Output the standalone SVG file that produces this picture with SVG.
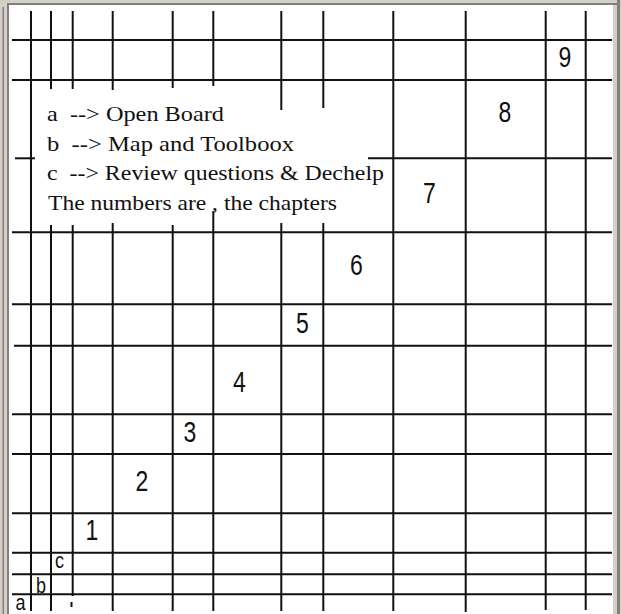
<svg xmlns="http://www.w3.org/2000/svg" width="621" height="614" viewBox="0 0 621 614">
<style>
.g line{stroke:#111;stroke-width:2;stroke-linecap:butt}
.legend{font-family:"Liberation Serif","Times New Roman",serif;font-size:21px;fill:#111;white-space:pre}
.num{font-family:"Liberation Sans",Arial,sans-serif;font-size:23px;fill:#111;text-anchor:middle}
.lab{font-family:"Liberation Sans",Arial,sans-serif;font-size:18px;fill:#111;text-anchor:middle}
</style>
<g id="frame">
<rect x="0" y="0" width="621" height="614" fill="#d4d0c8"/>
<rect x="9" y="5" width="604" height="609" fill="#ffffff"/>
<rect x="7" y="3" width="610" height="2" fill="#808080"/>
<rect x="7" y="3" width="2" height="611" fill="#808080"/>
<rect x="2.5" y="7" width="1.5" height="607" fill="#808080"/>
<rect x="617" y="0" width="3" height="614" fill="#808080"/>
</g>
<g id="grid" class="g">
<line x1="31" y1="11" x2="31" y2="611"/>
<line x1="51" y1="11" x2="51" y2="89"/>
<line x1="51" y1="225" x2="51" y2="611"/>
<line x1="72.7" y1="11" x2="72.7" y2="89"/>
<line x1="72.7" y1="225" x2="72.7" y2="596"/>
<line x1="71.5" y1="602" x2="71.5" y2="607"/>
<line x1="112.7" y1="11" x2="112.7" y2="90"/>
<line x1="112.7" y1="223" x2="112.7" y2="611"/>
<line x1="172.7" y1="11" x2="172.7" y2="88"/>
<line x1="172.7" y1="225" x2="172.7" y2="611"/>
<line x1="213.3" y1="11" x2="213.3" y2="86"/>
<line x1="213.3" y1="211" x2="213.3" y2="611"/>
<line x1="281.3" y1="11" x2="281.3" y2="110"/>
<line x1="281.3" y1="223" x2="281.3" y2="611"/>
<line x1="323.3" y1="11" x2="323.3" y2="108"/>
<line x1="323.3" y1="223" x2="323.3" y2="611"/>
<line x1="393.3" y1="11" x2="393.3" y2="611"/>
<line x1="465.7" y1="11" x2="465.7" y2="612"/>
<line x1="545.7" y1="11" x2="545.7" y2="610"/>
<line x1="585.7" y1="11" x2="585.7" y2="610"/>
<line x1="12" y1="40" x2="612" y2="40"/>
<line x1="12" y1="80" x2="612" y2="80"/>
<line x1="15" y1="158.3" x2="35" y2="158.3"/>
<line x1="368" y1="158.3" x2="612" y2="158.3"/>
<line x1="12" y1="232.3" x2="612" y2="232.3"/>
<line x1="12" y1="304.3" x2="612" y2="304.3"/>
<line x1="14" y1="345.7" x2="612" y2="345.7"/>
<line x1="12" y1="414.3" x2="612" y2="414.3"/>
<line x1="12" y1="454" x2="612" y2="454"/>
<line x1="12" y1="513.3" x2="612" y2="513.3"/>
<line x1="12" y1="552.7" x2="612" y2="552.7"/>
<line x1="12" y1="574.3" x2="612" y2="574.3"/>
<line x1="12" y1="594.3" x2="612" y2="594.3"/>
</g>
<g id="legend">
<text class="legend" x="47" y="120.5" textLength="177" lengthAdjust="spacingAndGlyphs">a  --&gt; Open Board</text>
<text class="legend" x="47" y="150.5" textLength="247" lengthAdjust="spacingAndGlyphs">b  --&gt; Map and Toolboox</text>
<text class="legend" x="47" y="180" textLength="337" lengthAdjust="spacingAndGlyphs">c  --&gt; Review questions &amp; Dechelp</text>
<text class="legend" x="48" y="210" textLength="289" lengthAdjust="spacingAndGlyphs">The numbers are , the chapters</text>
</g>
<g id="chapters">
<g id="ch1"><text class="num" transform="translate(92,540) scale(1,1.3)">1</text></g>
<g id="ch2"><text class="num" transform="translate(142,491) scale(1,1.3)">2</text></g>
<g id="ch3"><text class="num" transform="translate(190,442) scale(1,1.3)">3</text></g>
<g id="ch4"><text class="num" transform="translate(239.5,392) scale(1,1.3)">4</text></g>
<g id="ch5"><text class="num" transform="translate(302.5,333) scale(1,1.3)">5</text></g>
<g id="ch6"><text class="num" transform="translate(356.5,275) scale(1,1.3)">6</text></g>
<g id="ch7"><text class="num" transform="translate(429.5,203) scale(1,1.3)">7</text></g>
<g id="ch8"><text class="num" transform="translate(505,121.5) scale(1,1.3)">8</text></g>
<g id="ch9"><text class="num" transform="translate(565,67) scale(1,1.3)">9</text></g>
</g>
<g id="sections">
<g id="sec-a"><text class="lab" transform="translate(20.5,610) scale(1,1.25)">a</text></g>
<g id="sec-b"><text class="lab" transform="translate(41,593) scale(1,1.25)">b</text></g>
<g id="sec-c"><text class="lab" transform="translate(59.5,568) scale(1,1.25)">c</text></g>
</g>
</svg>
